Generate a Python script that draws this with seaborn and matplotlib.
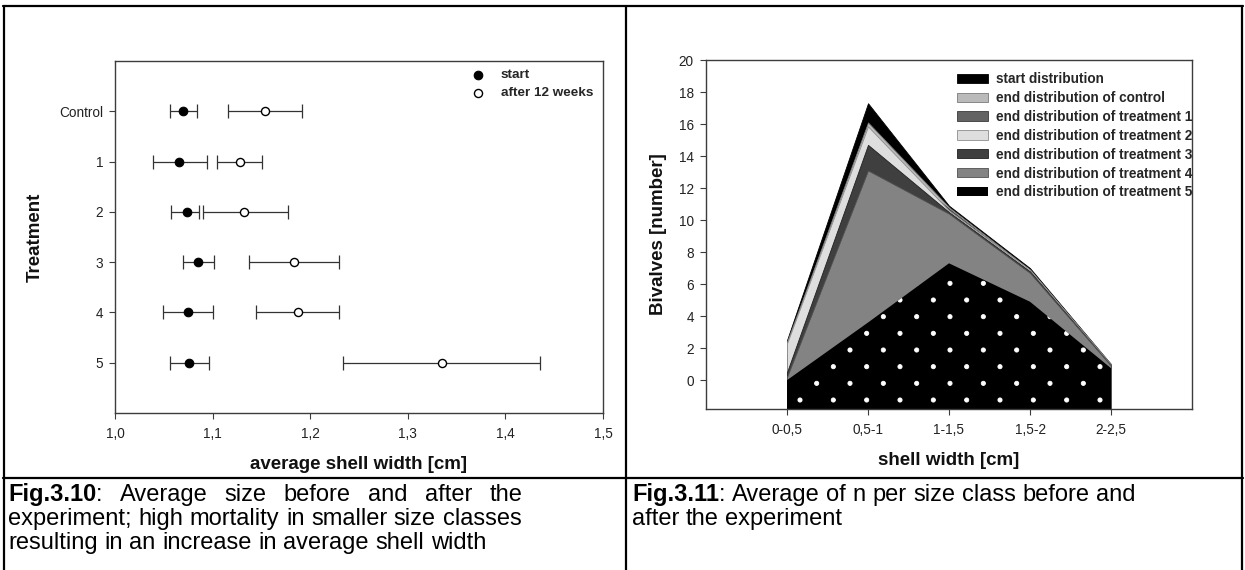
import numpy as np
import pandas as pd
import matplotlib
matplotlib.use("Agg")
import matplotlib.pyplot as plt
import matplotlib.hatch as mhatch
from matplotlib.lines import Line2D
from matplotlib.path import Path
import seaborn as sns

# ---------------- data: Fig. 3.10 ----------------
treatments = ["Control", "1", "2", "3", "4", "5"]
start_mean = [1.070, 1.066, 1.074, 1.085, 1.075, 1.076]
start_low = [1.056, 1.039, 1.057, 1.070, 1.049, 1.056]
start_high = [1.084, 1.094, 1.086, 1.101, 1.100, 1.096]
after_mean = [1.154, 1.128, 1.132, 1.183, 1.187, 1.335]
after_low = [1.116, 1.105, 1.090, 1.137, 1.144, 1.234]
after_high = [1.192, 1.151, 1.177, 1.229, 1.229, 1.435]
width_ticks = [1.0, 1.1, 1.2, 1.3, 1.4, 1.5]
width_tick_labels = ["1,0", "1,1", "1,2", "1,3", "1,4", "1,5"]

# ---------------- data: Fig. 3.11 ----------------
size_classes = ["0-0,5", "0,5-1", "1-1,5", "1,5-2", "2-2,5"]
dist_names = ["start distribution", "end distribution of control",
              "end distribution of treatment 1", "end distribution of treatment 2",
              "end distribution of treatment 3", "end distribution of treatment 4",
              "end distribution of treatment 5"]
start_dist = [2.5, 17.3, 10.9, 7.0, 1.0]
control_dist = [2.4, 16.1, 10.8, 6.9, 1.0]
treat1_dist = [1.5, 15.0, 10.7, 6.8, 0.95]
treat2_dist = [2.3, 15.85, 10.6, 6.9, 0.95]
treat3_dist = [0.5, 14.7, 10.5, 6.8, 0.9]
treat4_dist = [0.2, 13.1, 10.4, 6.7, 0.9]
treat5_dist = [0.0, 3.6, 7.3, 4.9, 0.75]
count_ticks = [0, 2, 4, 6, 8, 10, 12, 14, 16, 18, 20]

# ---------------- captions ----------------
cap1_bold = "Fig.3.10"
cap1_lines = [": Average size before and after the",
              "experiment; high mortality in smaller size classes",
              "resulting in an increase in average shell width"]
cap2_bold = "Fig.3.11"
cap2_lines = [": Average of n per size class before and",
              "after the experiment"]


# ---------------- sparse dot texture for the '.' hatch ----------------
class SparseDots(mhatch.HatchPatternBase):
    def __init__(self, hatch, density):
        n = hatch.count('.')
        self.rows = 6 * n
        self.cols = 3 * n
        self.centers = []
        if n:
            for r in range(self.rows + 1):
                yy = r / self.rows
                if r % 2 == 0:
                    xs = [k / self.cols for k in range(self.cols + 1)]
                else:
                    xs = [(k + 0.5) / self.cols for k in range(self.cols)]
                self.centers += [(xx, yy) for xx in xs]
        circ = Path.unit_circle()
        self.shape_vertices = circ.vertices
        self.shape_codes = circ.codes
        self.num_vertices = len(self.centers) * len(self.shape_vertices)

    def set_vertices_and_codes(self, vertices, codes):
        nv = len(self.shape_vertices)
        rad = 0.021
        for i, (cx, cy) in enumerate(self.centers):
            vertices[i * nv:(i + 1) * nv] = self.shape_vertices * rad + (cx, cy)
            codes[i * nv:(i + 1) * nv] = self.shape_codes


mhatch._hatch_types = [SparseDots if c is mhatch.SmallFilledCircles else c
                       for c in mhatch._hatch_types]

# ---------------- style ----------------
sns.set_theme(style="white")
plt.rcParams["font.family"] = ["Liberation Sans", "DejaVu Sans"]
plt.rcParams["axes.edgecolor"] = "#3c3c3c"
plt.rcParams["axes.linewidth"] = 1.0
plt.rcParams["xtick.color"] = "#3c3c3c"
plt.rcParams["ytick.color"] = "#3c3c3c"
plt.rcParams["hatch.linewidth"] = 0.6

W, H = 1245, 570
fig = plt.figure(figsize=(W / 100, H / 100), dpi=100)
fig.patch.set_facecolor("white")


def fx(x):
    return x / W


def fy(y):
    return 1 - y / H


TICK_FS = 9.8
TICK_COLOR = "#222222"

# ================= left panel =================
ax1 = fig.add_axes([fx(115), fy(413), (603 - 115) / W, (413 - 61) / H])
ypos = np.arange(len(treatments))
sm, sl, sh = map(np.array, (start_mean, start_low, start_high))
am, al, ah = map(np.array, (after_mean, after_low, after_high))
ax1.errorbar(sm, ypos, xerr=[sm - sl, sh - sm], fmt="none", ecolor="#333333",
             elinewidth=0.9, capsize=5, capthick=0.9, zorder=2)
ax1.errorbar(am, ypos, xerr=[am - al, ah - am], fmt="none", ecolor="#333333",
             elinewidth=0.9, capsize=5, capthick=0.9, zorder=2)
df1 = pd.DataFrame({"treatment": treatments, "pos": ypos,
                    "start": start_mean, "after": after_mean})
sns.scatterplot(data=df1, x="start", y="pos", ax=ax1, marker="o", s=38,
                color="black", edgecolor="black", linewidth=0.8,
                label="start", zorder=3)
sns.scatterplot(data=df1, x="after", y="pos", ax=ax1, marker="o", s=34,
                color="white", edgecolor="black", linewidth=1.0,
                label="after 12 weeks", zorder=3)
ax1.set_xlim(1.0, 1.5)
ax1.set_ylim(len(treatments), -1)
ax1.set_xticks(width_ticks, width_tick_labels)
ax1.set_yticks(ypos, treatments)
ax1.tick_params(axis="x", direction="out", length=4, width=0.8, labelsize=TICK_FS,
                labelcolor=TICK_COLOR, pad=6, bottom=True)
ax1.tick_params(axis="y", direction="out", length=4, width=0.8, labelsize=TICK_FS,
                labelcolor=TICK_COLOR, pad=4.5, left=True)
ax1.set_xlabel("average shell width [cm]", fontsize=13.5, fontweight="bold",
               color="#111111")
ax1.set_ylabel("Treatment", fontsize=13.5, fontweight="bold", color="#111111")
ax1.xaxis.set_label_coords(0.5, (413 - 456) / (413 - 61))
ax1.yaxis.set_label_coords((44 - 115) / (603 - 115), 0.5)
for s in ax1.spines.values():
    s.set_visible(True)
h1, l1 = ax1.get_legend_handles_labels()
ax1.legend(h1, l1, loc="upper left", bbox_to_anchor=(fx(471), fy(69)),
           bbox_transform=fig.transFigure, frameon=False, borderpad=0,
           borderaxespad=0, handlelength=1.0, handletextpad=1.2,
           labelspacing=0.4, prop={"weight": "bold", "size": 9.7})

# ================= right panel =================
ax2 = fig.add_axes([fx(706), fy(409), (1192 - 706) / W, (409 - 60) / H])
xpos = np.arange(len(size_classes))
y_floor = -1.8
dist_values = [start_dist, control_dist, treat1_dist, treat2_dist,
               treat3_dist, treat4_dist, treat5_dist]
face_cols = ["#000000", "#bababa", "#636363", "#dedede", "#3f3f3f", "#838383", "#000000"]
edge_cols = ["#000000", "#7a7a7a", "#3a3a3a", "#8c8c8c", "#202020", "#505050", "white"]
line_ws = [0.6, 0.6, 0.6, 0.6, 0.6, 0.6, 0.0]
hatches = [None, None, None, None, None, None, "."]
for name, vals, fc, ec, lw, ht in zip(dist_names, dist_values, face_cols,
                                      edge_cols, line_ws, hatches):
    ax2.fill_between(xpos, y_floor, vals, facecolor=fc, edgecolor=ec,
                     linewidth=lw, hatch=ht, label=name, zorder=1)
ax2.set_xlim(-1, len(size_classes))
ax2.set_ylim(y_floor, 20)
ax2.set_xticks(xpos, size_classes)
ax2.set_yticks(count_ticks)
ax2.tick_params(axis="x", direction="out", length=4.3, width=0.8, labelsize=TICK_FS,
                labelcolor=TICK_COLOR, pad=6, bottom=True)
ax2.tick_params(axis="y", direction="out", length=4.3, width=0.8, labelsize=TICK_FS,
                labelcolor=TICK_COLOR, pad=4.5, left=True)
ax2.set_xlabel("shell width [cm]", fontsize=13.5, fontweight="bold", color="#111111")
ax2.set_ylabel("Bivalves [number]", fontsize=13.5, fontweight="bold", color="#111111")
ax2.xaxis.set_label_coords(0.5, (409 - 452) / (409 - 60))
ax2.yaxis.set_label_coords((667 - 706) / (1192 - 706), 0.5)
for s in ax2.spines.values():
    s.set_visible(True)
ax2.legend(loc="upper left", bbox_to_anchor=(fx(957), fy(72)),
           bbox_transform=fig.transFigure, frameon=False, borderpad=0,
           borderaxespad=0, handlelength=2.3, handleheight=0.66,
           handletextpad=0.6, labelspacing=0.36,
           prop={"weight": "bold", "size": 9.8})

# ================= table frame =================
frame_kw = dict(color="black", linewidth=1.6, transform=fig.transFigure)
fig.add_artist(Line2D([fx(3), fx(1243)], [fy(6), fy(6)], **frame_kw))
fig.add_artist(Line2D([fx(3), fx(1243)], [fy(478), fy(478)], **frame_kw))
fig.add_artist(Line2D([fx(4), fx(4)], [fy(6), fy(571)], **frame_kw))
fig.add_artist(Line2D([fx(626), fx(626)], [fy(6), fy(571)], **frame_kw))
fig.add_artist(Line2D([fx(1242), fx(1242)], [fy(6), fy(571)], **frame_kw))

# ================= captions =================
CAP_FS = 17.0
renderer = fig.canvas.get_renderer()


def twidth(s, weight="normal"):
    t = fig.text(0, 0, s, fontsize=CAP_FS, fontweight=weight)
    w = t.get_window_extent(renderer).width
    t.remove()
    return w


space_w = twidth("a a") - twidth("aa")


def draw_caption(bold, lines, x0, x1, baselines, justify_first):
    for i, (line, yb) in enumerate(zip(lines, baselines)):
        words = line.split(" ")
        pieces = []
        for j, wd in enumerate(words):
            if i == 0 and j == 0:
                pieces.append([(bold, "bold"), (wd, "normal")])
            else:
                pieces.append([(wd, "normal")])
        widths = [sum(twidth(t, w) for t, w in p) for p in pieces]
        gap = space_w
        if i == 0 and justify_first and len(pieces) > 1:
            gap = (x1 - x0 - sum(widths)) / (len(pieces) - 1)
        x = x0
        for p, wsum in zip(pieces, widths):
            xi = x
            for t, w in p:
                fig.text(fx(xi), fy(yb), t, fontsize=CAP_FS, fontweight=w,
                         ha="left", va="baseline", color="black")
                xi += twidth(t, w)
            x += wsum + gap


draw_caption(cap1_bold, cap1_lines, 8, 522, [501, 525, 549], True)
draw_caption(cap2_bold, cap2_lines, 632, 1140, [501, 525], False)

fig.savefig("out.png", dpi=100)
